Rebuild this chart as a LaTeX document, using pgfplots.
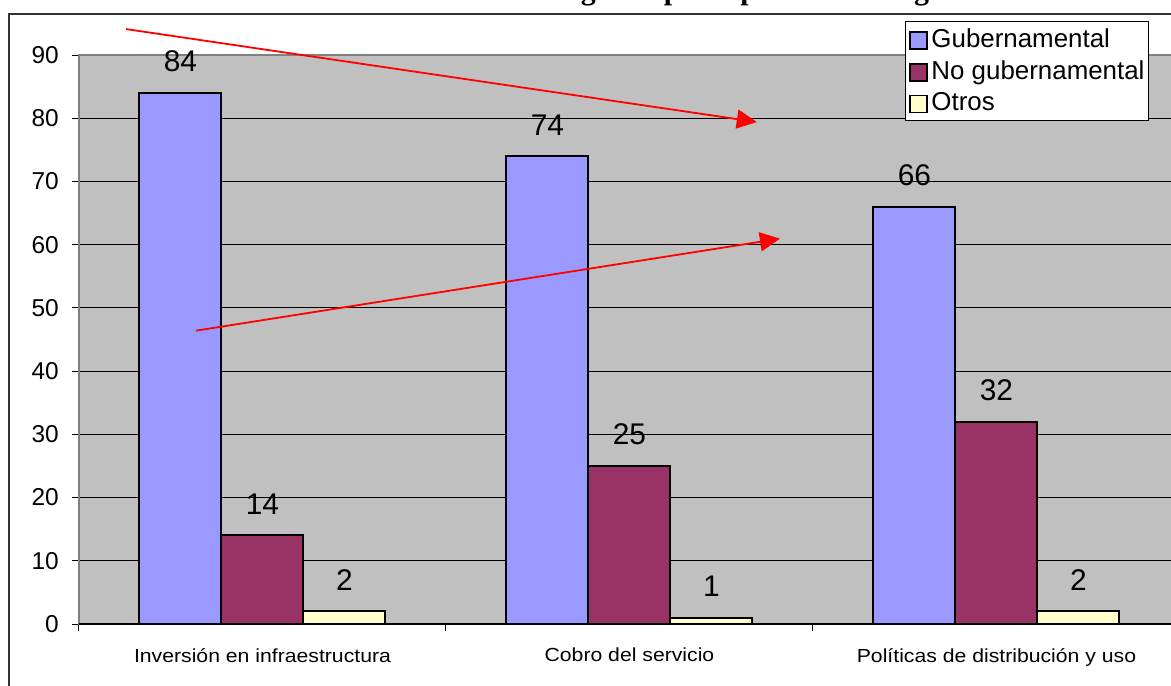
\documentclass[border=0pt]{standalone}
\usepackage{fontspec}
\setmainfont{Liberation Sans}
\newfontfamily\titlefont{Liberation Serif}
\newfontfamily\catfont[FakeStretch=1.12]{Liberation Sans}
\usepackage{pgfplots}
\pgfplotsset{compat=1.18}
\usetikzlibrary{calc,arrows.meta}
\definecolor{cblue}{HTML}{9999FF}
\definecolor{cpurple}{HTML}{993366}
\definecolor{cyellow}{HTML}{FFFFCC}
\definecolor{plotbg}{HTML}{C0C0C0}
\definecolor{plotborder}{HTML}{808080}
\newcommand{\legfont}{\fontsize{26}{30}\selectfont}
\begin{document}
\begin{tikzpicture}
\begin{axis}[
  scale only axis, width=1101bp, height=569bp,
  xmin=-0.5, xmax=2.5, ymin=0, ymax=90,
  ybar=0pt, bar width=82bp,
  axis background/.style={fill=plotbg},
  axis line style={draw=plotborder, line width=1.5bp},
  ymajorgrids, grid style={black, line width=1bp},
  ytick={0,10,...,90},
  xtick={-0.5,0.5,1.5,2.5},
  x tick label as interval,
  xticklabels={Inversión en infraestructura, Cobro del servicio, Políticas de distribución y uso},
  tick align=outside, major tick length=7bp,
  tick style={black, line width=1bp},
  xtick pos=bottom, ytick pos=left,
  /pgf/number format/assume math mode=true,
  yticklabel style={font=\fontsize{24.5}{28}\selectfont, inner sep=0pt, xshift=-13bp},
  xticklabel style={font=\catfont\fontsize{19}{23}\selectfont, inner sep=0pt, yshift=-17bp},
  nodes near coords,
  nodes near coords style={font=\fontsize{30}{34}\selectfont, anchor=south, inner sep=0pt, yshift=20bp},
  clip=false,
  legend style={at={(0.7502,1.0598)}, anchor=north west, draw=black, line width=1bp, fill=white,
    font=\legfont, inner xsep=4bp, inner ysep=7.5bp, row sep=11bp,
    nodes={inner sep=0pt}, /tikz/every odd column/.append style={column sep=3.5bp}},
  legend cell align=left,
  legend image code/.code={\draw[#1, line width=1.5bp, draw=black] (0bp,-10bp) rectangle (17bp,7bp);},
]
\addplot[fill=cblue, draw=black, line width=2bp] coordinates {(0,84) (1,74) (2,66)};
\addplot[fill=cpurple, draw=black, line width=2bp] coordinates {(0,14) (1,25) (2,32)};
\addplot[fill=cyellow, draw=black, line width=2bp] coordinates {(0,2) (1,1) (2,2)};
\legend{Gubernamental, No gubernamental, Otros}
\coordinate (ll) at (rel axis cs:0,0);
\draw[black, line width=1.5bp] (rel axis cs:0,0) -- (rel axis cs:1,0);
\draw[red, line width=1.8bp, -{Triangle[length=20bp,width=19bp]}] (axis cs:-0.372,94.1) -- (axis cs:1.347,79.4);
\draw[red, line width=1.8bp, -{Triangle[length=20bp,width=19bp]}] (axis cs:-0.181,46.4) -- (axis cs:1.410,60.95);
\end{axis}
\draw[black!80, line width=1.5bp] ($(ll)+(-70bp,-80bp)$) |- ($(ll)+(1110bp,610bp)$);
\node[anchor=base west, inner sep=0pt, font=\titlefont\bfseries\fontsize{30}{34}\selectfont] at ($(ll)+(349bp,624bp)$) {Sector a cargo del principal reto de la gestión};
\pgfresetboundingbox
\useasboundingbox ($(ll)+(-79bp,-62bp)$) rectangle ($(ll)+(1092bp,624bp)$);
\end{tikzpicture}
\end{document}
